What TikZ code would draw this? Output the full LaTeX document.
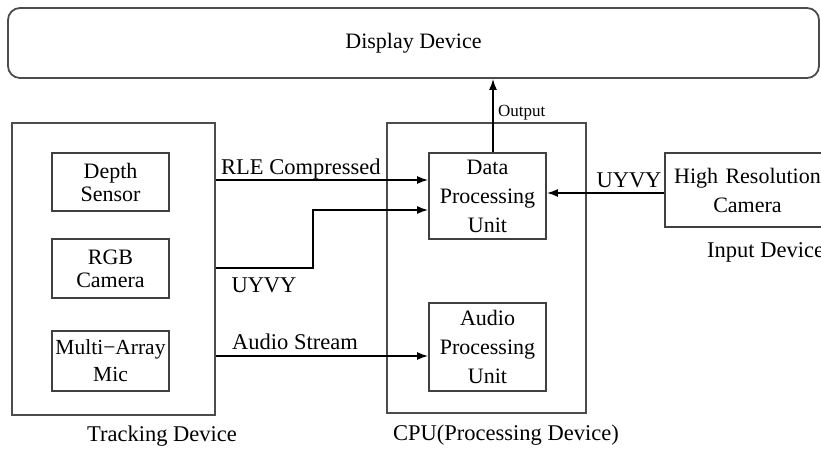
\documentclass[tikz,border=0pt]{standalone}
\usepackage{fontspec}
\setmainfont{Liberation Serif}
\usetikzlibrary{arrows.meta,calc}
\begin{document}
\begin{tikzpicture}[x=1pt,y=-1pt,
  box/.style={draw=black!75,line width=1.8pt,inner sep=0pt,align=center,font=\fontsize{22}{23}\selectfont},
  bigbox/.style={draw=black!70,line width=1.8pt,inner sep=0pt},
  arr/.style={line width=1.6pt,-{Latex[length=11pt,width=8pt]}},
  lbl/.style={font=\fontsize{22.5}{24}\selectfont,inner sep=0pt}]
\useasboundingbox (0,0) rectangle (821,452);
% display
\node[bigbox,rounded corners=12pt,minimum width=811pt,minimum height=70pt,font=\fontsize{22}{24}\selectfont] (disp) at (413.5,43) {Display Device};
% containers
\node[bigbox,minimum width=203pt,minimum height=292pt] (tr) at (113.5,269) {};
\node[bigbox,minimum width=199pt,minimum height=290pt] (cpu) at (486.5,268) {};
% inner boxes
\node[box,minimum width=117pt,minimum height=58pt] (ds) at (110.5,182) {Depth\\Sensor};
\node[box,minimum width=117pt,minimum height=59pt] (rgb) at (110.5,268.5) {RGB\\Camera};
\node[box,minimum width=117pt,minimum height=60pt,font=\fontsize{21.5}{27}\selectfont] (mic) at (110.5,361) {Multi−Array\\Mic};
\node[box,minimum width=117pt,minimum height=86pt,font=\fontsize{22}{29}\selectfont] (dpu) at (487.5,196) {Data\\Processing\\Unit};
\node[box,minimum width=117pt,minimum height=88pt,font=\fontsize{22}{29}\selectfont] (apu) at (487.5,347) {Audio\\Processing\\Unit};
\node[box,minimum width=165pt,minimum height=74pt,text width=165pt,font=\fontsize{22}{29}\selectfont] (hrc) at (747.5,190) {High Resolution\\Camera};
% connectors
\coordinate (rleS) at (tr.east |- 0,180);
\coordinate (uyS) at (tr.east |- 0,268);
\coordinate (uyK) at (313,268);
\coordinate (uyT) at (dpu.west |- 0,210);
\coordinate (auS) at (tr.east |- 0,356);
\coordinate (outS) at ([xshift=5.5pt]dpu.north);
\coordinate (camS) at (hrc.west |- 0,193);
\draw[arr] (rleS) -- (dpu.west |- rleS);
\draw[arr] (uyS) -- (uyK) |- (uyT);
\draw[arr] (auS) -- (apu.west |- auS);
\draw[arr] (outS) -- (disp.south -| outS);
\draw[arr] (camS) -- (dpu.east |- camS);
% labels
\node[lbl,anchor=west] (l1) at (221,169) {RLE Compressed};
\node[lbl] (l2) at (264,285) {UYVY};
\node[lbl] (l3) at (295,342) {Audio Stream};
\node[lbl] (l4) at (629,180) {UYVY};
\node[lbl,font=\fontsize{17}{18}\selectfont,anchor=west] (l5) at (498,113) {Output};
\node[lbl] (l6) at (162,436) {Tracking Device};
\node[lbl] (l7) at (506,435) {CPU(Processing Device)};
\node[lbl,anchor=west] (l8) at (707,252) {Input Device};
\end{tikzpicture}
\end{document}
